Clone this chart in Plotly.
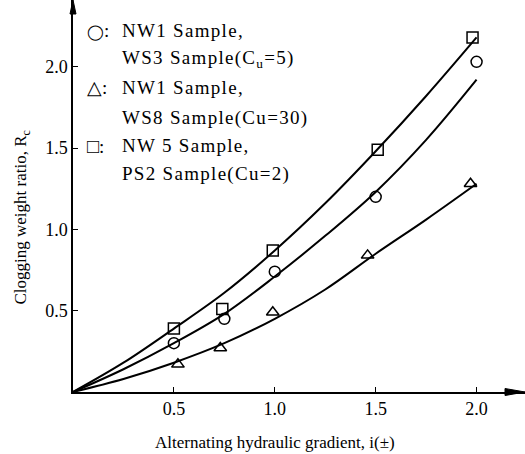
import plotly.graph_objects as go

# Measured points
x_circle = [0.5, 0.75, 1.0, 1.5, 2.0]
y_circle = [0.30, 0.45, 0.74, 1.20, 2.03]
x_tri = [0.52, 0.73, 0.99, 1.46, 1.97]
y_tri = [0.17, 0.27, 0.49, 0.84, 1.28]
x_sq = [0.5, 0.74, 0.99, 1.51, 1.98]
y_sq = [0.39, 0.51, 0.87, 1.49, 2.18]

# Fitted trend curves
curve_x = [0.0, 0.25, 0.5, 0.75, 1.0, 1.25, 1.5, 1.75, 2.0]
curve_sq = [0.0, 0.18, 0.39, 0.61, 0.87, 1.16, 1.48, 1.82, 2.18]
curve_circle = [0.0, 0.14, 0.30, 0.48, 0.71, 0.96, 1.23, 1.55, 1.92]
curve_tri = [0.0, 0.08, 0.18, 0.30, 0.45, 0.63, 0.85, 1.06, 1.28]

x_ticks = [0.5, 1.0, 1.5, 2.0]
y_ticks = [0.5, 1.0, 1.5, 2.0]
tick_text = ["0.5", "1.0", "1.5", "2.0"]

# Key: symbol rows and description rows (paper y of each row)
key_symbols = [
    ("<span style='font-size:15px'>◯</span>:", 0.923),
    ("<span style='font-size:19px'>△</span>:", 0.776),
    ("<span style='font-size:20px'>□</span>:", 0.628),
]
key_lines = [
    ("NW1 Sample,", 0.923),
    ("WS3 Sample(C<sub>u</sub>=5)", 0.849),
    ("NW1 Sample,", 0.776),
    ("WS8 Sample(Cu=30)", 0.699),
    ("NW 5 Sample,", 0.628),
    ("PS2 Sample(Cu=2)", 0.556),
]

x_title = "Alternating hydraulic gradient, i(±)"
y_title = "Clogging weight ratio, R<sub>c</sub>"

FONT = "Liberation Serif, Times New Roman, serif"

fig = go.Figure()
for cy in (curve_sq, curve_circle, curve_tri):
    fig.add_trace(go.Scatter(x=curve_x, y=cy, mode="lines",
                             line=dict(color="black", width=2, shape="spline"),
                             hoverinfo="skip"))

for xs, ys, sym in ((x_circle, y_circle, "circle-open"),
                    (x_tri, y_tri, "triangle-up-open"),
                    (x_sq, y_sq, "square-open")):
    fig.add_trace(go.Scatter(x=xs, y=ys, mode="markers",
                             marker=dict(symbol=sym, size=11, color="black",
                                         line=dict(width=1.5, color="black"))))

for txt, py in key_symbols:
    fig.add_annotation(text=txt, x=0.027, y=py, xref="paper", yref="paper",
                       xanchor="left", yanchor="middle", align="left",
                       showarrow=False,
                       font=dict(family=FONT, size=19, color="black"))
for txt, py in key_lines:
    fig.add_annotation(text=txt, x=0.104, y=py, xref="paper", yref="paper",
                       xanchor="left", yanchor="middle", align="left",
                       showarrow=False,
                       font=dict(family=FONT, size=19, color="black"))

# Axis titles
fig.add_annotation(text=x_title, x=0.447, y=-0.128, xref="paper", yref="paper",
                   xanchor="center", yanchor="middle", showarrow=False,
                   font=dict(family=FONT, size=17, color="black"))
fig.add_annotation(text=y_title, x=-0.113, y=0.445, xref="paper", yref="paper",
                   xanchor="center", yanchor="middle", showarrow=False,
                   textangle=-90,
                   font=dict(family=FONT, size=17, color="black"))

# Arrowheads at the ends of both axes
ah_x = 20 / 452
ah_y = 14 / 392
fig.add_shape(type="path", xref="paper", yref="paper",
              path=f"M 1,0 L {1 - ah_x},{3.5 / 392} L {1 - ah_x},{-3.5 / 392} Z",
              fillcolor="black", line=dict(color="black", width=1))
fig.add_shape(type="path", xref="paper", yref="paper",
              path=f"M 0,1 L {-3 / 452},{1 - ah_y} L {3 / 452},{1 - ah_y} Z",
              fillcolor="black", line=dict(color="black", width=1))

axis_common = dict(ticks="inside", ticklen=5, tickcolor="black", showgrid=False,
                   zeroline=False, showline=True, linecolor="black", linewidth=1.5,
                   tickfont=dict(family=FONT, size=18, color="black"))

fig.update_layout(
    width=525, height=454,
    margin=dict(l=73, r=0, t=0, b=62),
    paper_bgcolor="white", plot_bgcolor="white",
    showlegend=False,
    font=dict(family=FONT, size=18, color="black"),
    xaxis=dict(range=[0, 2.24], tickvals=x_ticks, ticktext=tick_text, **axis_common),
    yaxis=dict(range=[0, 2.41], tickvals=y_ticks, ticktext=tick_text, **axis_common),
)

# Slightly wider letter spacing for the key descriptions; drop empty title nodes
post_js = """
document.querySelectorAll('.annotation-text').forEach(function (t) {
  var txt = t.textContent || '';
  if (/^(NW|WS|PS)/.test(txt)) {
    t.style.letterSpacing = '1.3px';
  }
});
document.querySelectorAll('.main-svg text').forEach(function (t) {
  if (!(t.textContent || '').trim()) { t.remove(); }
});
"""

fig.write_html("out.html", post_script=post_js)
